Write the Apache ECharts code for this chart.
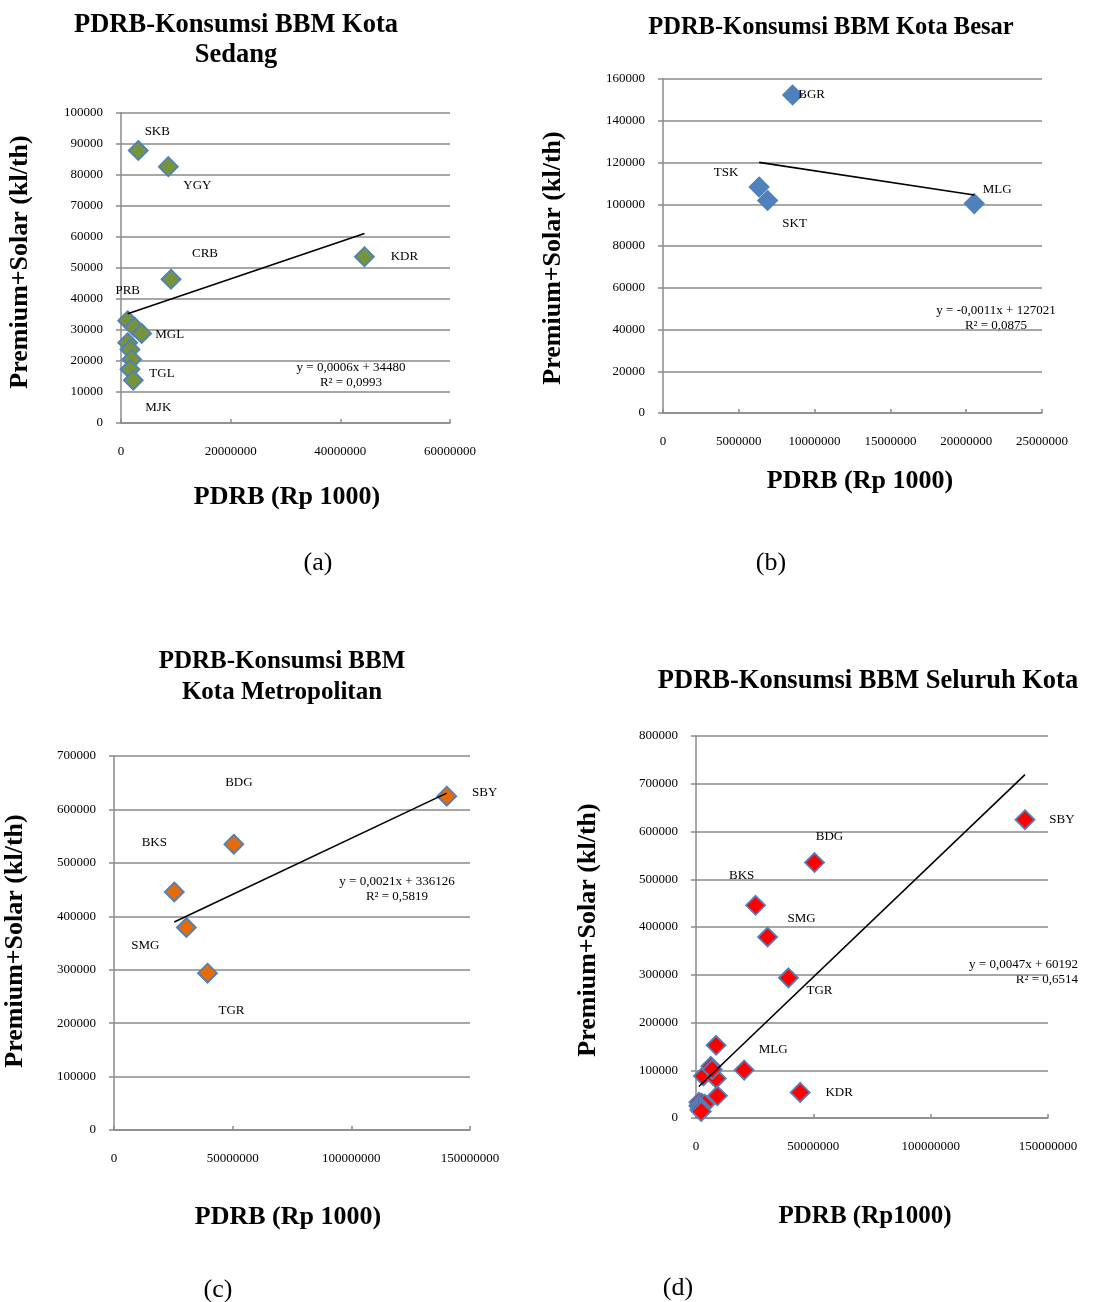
<!DOCTYPE html>
<html><head><meta charset="utf-8">
<script src="https://cdn.jsdelivr.net/npm/echarts@6/dist/echarts.min.js"></script>
<style>html,body{margin:0;padding:0;background:#fff}#c{width:1105px;height:1302px}</style>
</head><body><div id="c"></div>
<script>
// ---- Data: Kota Sedang ----
const sedangNames = ['SKB','YGY','CRB','KDR','PRB','','MGL','','','','TGL','MJK'];
const sedangPDRB  = [3150000, 8630000, 9120000, 44400000, 1220000, 2430000, 3770000, 1220000, 1640000, 1950000, 1640000, 2240000];
const sedangBBM   = [87900, 82700, 46400, 53650, 33000, 31000, 28900, 25900, 23700, 20500, 17300, 13800];
// ---- Data: Kota Besar ----
const besarNames = ['BGR','TSK','SKT','MLG'];
const besarPDRB  = [8550000, 6340000, 6900000, 20530000];
const besarBBM   = [152300, 108300, 101800, 100300];
// ---- Data: Kota Metropolitan ----
const metroNames = ['SBY','BDG','BKS','SMG','TGR'];
const metroPDRB  = [140200000, 50500000, 25400000, 30500000, 39400000];
const metroBBM   = [624800, 535000, 445500, 379000, 293500];
// ---- Trendline equations (as printed) ----
const trendSlope     = [0.0006, -0.0011, 0.0021, 0.0047];
const trendIntercept = [34480, 127021, 336126, 60192];
const trendEqText    = ['y = 0,0006x + 34480', 'y = -0,0011x + 127021', 'y = 0,0021x + 336126', 'y = 0,0047x + 60192'];
const trendR2Text    = ['R² = 0,0993', 'R² = 0,0875', 'R² = 0,5819', 'R² = 0,6514'];
// ---- Titles / axis texts ----
const titles = [['PDRB-Konsumsi BBM Kota','Sedang'], ['PDRB-Konsumsi BBM Kota Besar'], ['PDRB-Konsumsi BBM','Kota Metropolitan'], ['PDRB-Konsumsi BBM Seluruh Kota']];
const xNames = ['PDRB (Rp 1000)','PDRB (Rp 1000)','PDRB (Rp 1000)','PDRB (Rp1000)'];
const yName = 'Premium+Solar (kl/th)';
const panelTags = ['(a)','(b)','(c)','(d)'];
// ---- Axis ranges ----
const xMax = [60000000, 25000000, 150000000, 150000000];
const xStep = [20000000, 5000000, 50000000, 50000000];
const yMax = [100000, 160000, 700000, 800000];
const yStep = [10000, 20000, 100000, 100000];

// ---- Layout / style (not data) ----
const grids = [
  {left:121, top:113, width:329, height:310},
  {left:663, top:79, width:379, height:334},
  {left:114, top:756, width:356, height:374},
  {left:696, top:736, width:352, height:382}
];
const fills = ['#77933C', '#4F81BD', '#E36C09', '#FF0000'];
const labelOffsets = [
  {SKB:[19,-19], YGY:[29,19], CRB:[34,-26], KDR:[40,0], PRB:[0,-30], MGL:[28,1], TGL:[32,4], MJK:[25,27]},
  {BGR:[19,0], TSK:[-33,-14], SKT:[27,23], MLG:[23,-14]},
  {SBY:[38,-4], BDG:[5,-62], BKS:[-20,-49], SMG:[-41,18], TGR:[24,37]},
  {SBY:[37,0], BDG:[15,-26], BKS:[-14,-30], SMG:[34,-18], TGR:[31,13], MLG:[29,-21], KDR:[39,0]}
];
const titlePos = [{x:236, y:[25,55], fs:26.5}, {x:831, y:[28], fs:24.5}, {x:282, y:[662,693], fs:25}, {x:868, y:[681], fs:26.5}];
const yNamePos = [[20,262],[553,258],[15,941],[588,930]];
const xNamePos = [[287,497],[860,481],[288,1217],[865,1217]];
const tagPos = [[318,563],[771,563],[218,1290],[678,1288]];
const eqPos = [
  {x:351, y:368, align:'center'},
  {x:996, y:311, align:'center'},
  {x:397, y:882, align:'center'},
  {x:1078, y:965, align:'right'}
];

const panelNames = [sedangNames, besarNames, metroNames, sedangNames.concat(besarNames, metroNames)];
const panelX = [sedangPDRB, besarPDRB, metroPDRB, sedangPDRB.concat(besarPDRB, metroPDRB)];
const panelY = [sedangBBM, besarBBM, metroBBM, sedangBBM.concat(besarBBM, metroBBM)];

const FONT = '"Liberation Serif","Times New Roman",serif';
const GRIDC = '#8a8a8a';

const xAxis = [], yAxis = [], series = [], graphic = [];
for (let i = 0; i < 4; i++) {
  xAxis.push({
    type:'value', gridIndex:i, min:0, max:xMax[i], interval:xStep[i],
    axisLine:{show:true, lineStyle:{color:GRIDC, width:1.5}},
    axisTick:{show:true, inside:true, length:4, lineStyle:{color:GRIDC, width:1.5}},
    splitLine:{show:false},
    axisLabel:{margin:22, fontFamily:FONT, fontSize:13, color:'#000', formatter:v=>String(v)}
  });
  yAxis.push({
    type:'value', gridIndex:i, min:0, max:yMax[i], interval:yStep[i],
    axisLine:{show:true, lineStyle:{color:GRIDC, width:1.5}},
    axisTick:{show:true, inside:false, length:5, lineStyle:{color:GRIDC, width:1.5}},
    splitLine:{show:true, lineStyle:{color:GRIDC, width:1.5}},
    axisLabel:{margin:18, fontFamily:FONT, fontSize:13, color:'#000', formatter:v=>String(v)}
  });
  const names = panelNames[i], xs = panelX[i], ys = panelY[i];
  const data = xs.map((x, k) => {
    const nm = names[k];
    const off = labelOffsets[i][nm];
    return {
      name: nm, value:[x, ys[k]],
      label: off ? {show:true, position:'inside', offset:off, formatter:nm} : {show:false}
    };
  });
  series.push({
    type:'scatter', xAxisIndex:i, yAxisIndex:i, symbol:'diamond', symbolSize:19,
    itemStyle:{color:fills[i], borderColor:'#4F81BD', borderWidth:1.8, opacity:1},
    label:{fontFamily:FONT, fontSize:13, color:'#000'},
    data: data, z:2
  });
  const x0 = Math.min(...xs), x1 = Math.max(...xs);
  series.push({
    type:'line', xAxisIndex:i, yAxisIndex:i, showSymbol:false, symbol:'none',
    lineStyle:{color:'#000', width:1.6}, z:3,
    data:[[x0, trendSlope[i]*x0 + trendIntercept[i]], [x1, trendSlope[i]*x1 + trendIntercept[i]]]
  });
  titles[i].forEach((t, j) => graphic.push({type:'text', x:titlePos[i].x, y:titlePos[i].y[j],
    style:{text:t, fontFamily:FONT, fontSize:titlePos[i].fs, fontWeight:'bold', fill:'#000', textAlign:'center', textVerticalAlign:'middle', align:'center', verticalAlign:'middle'}}));
  graphic.push({type:'text', x:yNamePos[i][0], y:yNamePos[i][1], rotation:Math.PI/2,
    style:{text:yName, fontFamily:FONT, fontSize:26, fontWeight:'bold', fill:'#000', textAlign:'center', textVerticalAlign:'middle', align:'center', verticalAlign:'middle'}});
  graphic.push({type:'text', x:xNamePos[i][0], y:xNamePos[i][1],
    style:{text:xNames[i], fontFamily:FONT, fontSize:i===3?25:26, fontWeight:'bold', fill:'#000', textAlign:'center', textVerticalAlign:'middle', align:'center', verticalAlign:'middle'}});
  graphic.push({type:'text', x:tagPos[i][0], y:tagPos[i][1],
    style:{text:panelTags[i], fontFamily:FONT, fontSize:26, fill:'#000', textAlign:'center', textVerticalAlign:'middle', align:'center', verticalAlign:'middle'}});
  [trendEqText[i], trendR2Text[i]].forEach((t, j) => graphic.push({type:'text', x:eqPos[i].x, y:eqPos[i].y + j*15,
    style:{text:t, fontFamily:FONT, fontSize:13, fill:'#000', textAlign:eqPos[i].align, textVerticalAlign:'middle', align:eqPos[i].align, verticalAlign:'middle'}}));
}

const chart = echarts.init(document.getElementById('c'), null, {renderer:'canvas'});
chart.setOption({
  animation:false,
  backgroundColor:'#fff',
  grid: grids,
  xAxis: xAxis,
  yAxis: yAxis,
  series: series,
  graphic: graphic
});
</script></body></html>
